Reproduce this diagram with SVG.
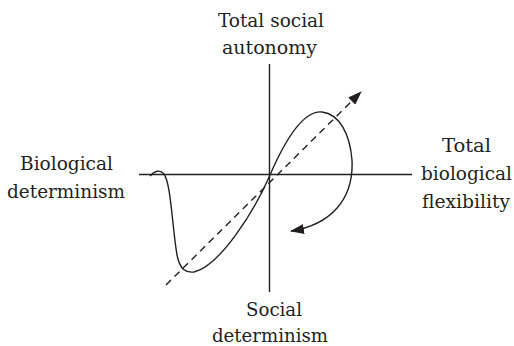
<svg xmlns="http://www.w3.org/2000/svg" width="514" height="346" viewBox="0 0 514 346">
<style>
.ax{stroke:#231f20;stroke-width:1.4;fill:none}
.crv{stroke:#231f20;stroke-width:1.4;fill:none}
.dash{stroke:#231f20;stroke-width:1.4;fill:none;stroke-dasharray:7 5}
text{font-family:"DejaVu Serif Condensed","DejaVu Serif",serif;font-size:19px;fill:#231f20;text-anchor:middle}
</style>
<defs>
<marker id="ah" viewBox="0 0 14 10" refX="13" refY="5" markerWidth="14" markerHeight="10" markerUnits="userSpaceOnUse" orient="auto">
<path d="M0,0 L14,5 L0,10 Z" fill="#231f20"/>
</marker>
</defs>
<g id="axes">
<line class="ax" x1="269.5" y1="64" x2="269.5" y2="292"/>
<line class="ax" x1="139" y1="174.5" x2="412" y2="174.5"/>
</g>
<g id="connectors">
<line class="dash" x1="166" y1="285" x2="361" y2="92" marker-end="url(#ah)"/>
<path class="crv" d="M150,176 C154,171 160,169 164,174 C171,184 172,225 177,255 C180,270 186,273 194,272 C220,266 255,210 270,175 C283,145 302,110 322,112 C340,114 350,135 352,160 C354,200 330,225 291,231" marker-end="url(#ah)"/>
</g>
<g id="top">
<text x="271" y="27" textLength="106" lengthAdjust="spacingAndGlyphs">Total social</text>
<text x="269.5" y="54" textLength="95" lengthAdjust="spacingAndGlyphs">autonomy</text>
</g>
<g id="left">
<text x="66.5" y="170" textLength="93" lengthAdjust="spacingAndGlyphs">Biological</text>
<text x="66" y="198" textLength="118" lengthAdjust="spacingAndGlyphs">determinism</text>
</g>
<g id="right">
<text x="466.5" y="152" textLength="49" lengthAdjust="spacingAndGlyphs">Total</text>
<text x="466.5" y="180" textLength="91" lengthAdjust="spacingAndGlyphs">biological</text>
<text x="466" y="208" textLength="88" lengthAdjust="spacingAndGlyphs">flexibility</text>
</g>
<g id="bottom">
<text x="274" y="316" textLength="56" lengthAdjust="spacingAndGlyphs">Social</text>
<text x="270" y="342" textLength="116" lengthAdjust="spacingAndGlyphs">determinism</text>
</g>
</svg>
